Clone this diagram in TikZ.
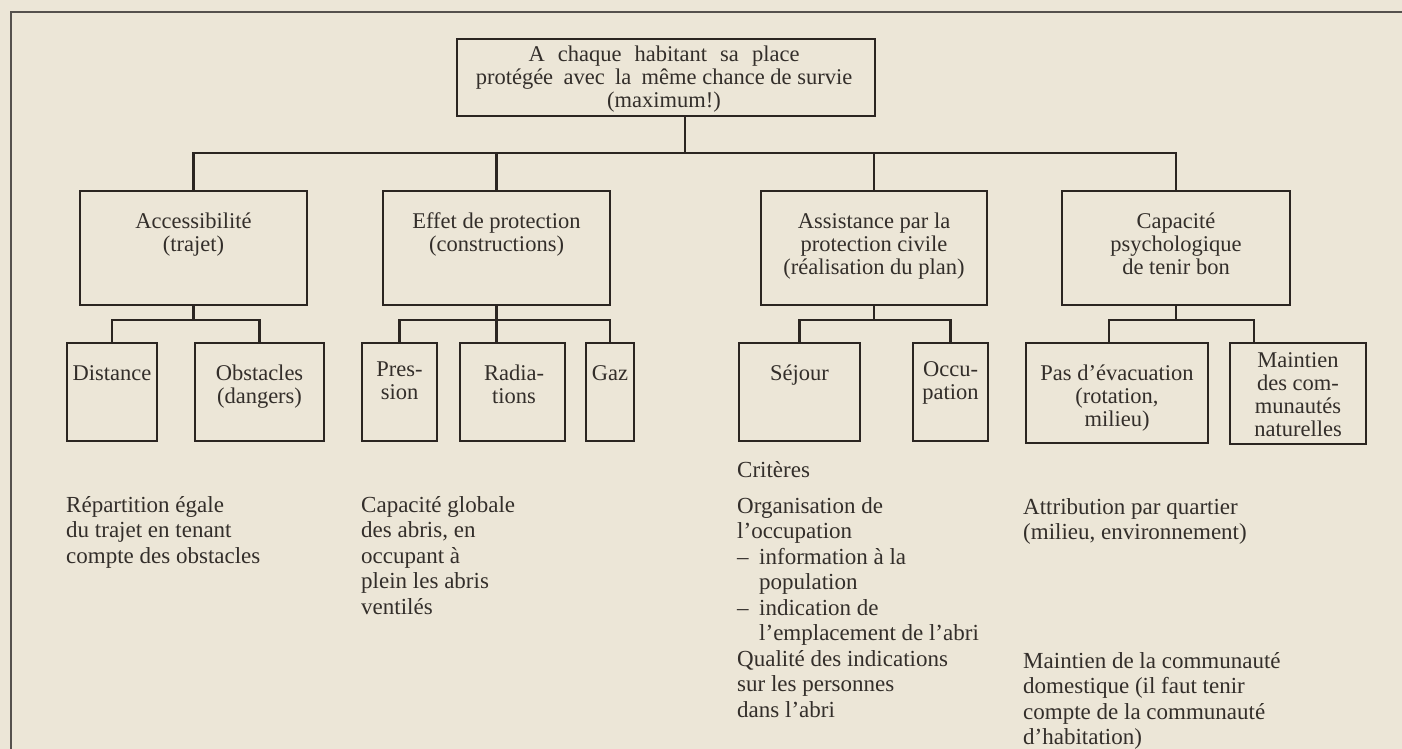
\documentclass[tikz,border=0pt]{standalone}
\usepackage{fontspec}
\setmainfont{Liberation Serif}
\definecolor{paper}{HTML}{ECE6D7}
\definecolor{ink}{HTML}{2B2521}
\definecolor{txt}{HTML}{332E2A}
\newcommand{\btxt}[1]{\parbox[t]{300pt}{\centering\fontsize{22.5}{23}\selectfont #1}}
\newcommand{\wtxt}[1]{\parbox[t]{440pt}{\centering\fontsize{22.5}{23}\selectfont #1}}
\newcommand{\ftxt}[1]{\parbox[t]{420pt}{\raggedright\fontsize{23}{25.5}\selectfont #1}}
\newcommand{\dashitem}{\makebox[22pt][l]{–}}
\begin{document}
\begin{tikzpicture}[x=1pt,y=-1pt,
  box/.style={draw=ink, line width=2.6pt, inner sep=0pt},
  lbl/.style={text=txt, inner sep=0pt, anchor=base},
  free/.style={text=txt, inner sep=0pt, anchor=base west},
  conn/.style={draw=ink, line width=2.4pt},
  frameline/.style={draw=ink!80, line width=1.5pt}]
\useasboundingbox (0,0) rectangle (1402,749);
\fill[paper] (0,0) rectangle (1402,749);
\draw[frameline] (11,749) -- (11,12) -- (1402,12);

% boxes
\node[box, minimum width=418pt, minimum height=77pt] (top) at (666,77.5) {};
\node[box, minimum width=227pt, minimum height=114pt] (acc) at (193.5,248) {};
\node[box, minimum width=227pt, minimum height=114pt] (eff) at (496.5,248) {};
\node[box, minimum width=226pt, minimum height=114pt] (ass) at (874,248) {};
\node[box, minimum width=228pt, minimum height=114pt] (cap) at (1176,248) {};
\node[box, minimum width=90pt, minimum height=98pt] (dist) at (112,392) {};
\node[box, minimum width=129pt, minimum height=98pt] (obs) at (259.5,392) {};
\node[box, minimum width=75pt, minimum height=98pt] (pres) at (399.5,392) {};
\node[box, minimum width=105pt, minimum height=98pt] (rad) at (512.5,392) {};
\node[box, minimum width=48pt, minimum height=98pt] (gaz) at (610,392) {};
\node[box, minimum width=121pt, minimum height=98pt] (sej) at (799.5,392) {};
\node[box, minimum width=75pt, minimum height=98pt] (occ) at (950.5,392) {};
\node[box, minimum width=182pt, minimum height=100pt] (pas) at (1117,393) {};
\node[box, minimum width=136pt, minimum height=101pt] (main) at (1298,393.5) {};

% box texts
\node[lbl] (topT) at (664,62) {\wtxt{\makebox[271pt][s]{A chaque habitant sa place}\\
  protégée\hspace{0.46em}avec\hspace{0.46em}la\hspace{0.46em}même chance de survie\\(maximum!)}};
\node[lbl] (accT) at (193.5,228) {\btxt{Accessibilité\\(trajet)}};
\node[lbl] (effT) at (496.5,228) {\btxt{Effet de protection\\(constructions)}};
\node[lbl] (assT) at (874,228) {\btxt{Assistance par la\\protection civile\\(réalisation du plan)}};
\node[lbl] (capT) at (1176,228) {\btxt{Capacité\\psychologique\\de tenir bon}};
\node[lbl] (distT) at (112,380) {\btxt{Distance}};
\node[lbl] (obsT) at (259.5,380) {\btxt{Obstacles\\(dangers)}};
\node[lbl] (presT) at (399.5,376) {\btxt{Pres-\\sion}};
\node[lbl] (radT) at (514,380) {\btxt{Radia-\\tions}};
\node[lbl] (gazT) at (610,380) {\btxt{Gaz}};
\node[lbl] (sejT) at (799.5,380) {\btxt{Séjour}};
\node[lbl] (occT) at (950.5,376) {\btxt{Occu-\\pation}};
\node[lbl] (pasT) at (1117,380) {\btxt{Pas d’évacuation\\(rotation,\\milieu)}};
\node[lbl] (mainT) at (1298,367) {\btxt{Maintien\\des com-\\munautés\\naturelles}};

% junction coordinates
\coordinate (j0) at (685,153);
\coordinate (j1) at (195,320);
\coordinate (j2) at (497,320);
\coordinate (j3) at (874,320);
\coordinate (j4) at (1176,320);
\coordinate (topOut) at ([xshift=19pt]top.south);
\coordinate (pasIn) at ([xshift=-8pt]pas.north);
\coordinate (mainIn) at ([xshift=-44pt]main.north);

% connectors level 1
\draw[conn] (topOut) -- (j0);
\draw[conn] (acc.north) |- (cap.north |- j0) -- (cap.north);
\draw[conn] (eff.north) -- (eff.north |- j0);
\draw[conn] (ass.north) -- (ass.north |- j0);

% connectors level 2
\draw[conn] (acc.south) -- (acc.south |- j1);
\draw[conn] (dist.north) |- (obs.north |- j1) -- (obs.north);
\draw[conn] (eff.south) -- (eff.south |- j2);
\draw[conn] (pres.north) |- (gaz.north |- j2) -- (gaz.north);
\draw[conn] (rad.north -| eff.south) -- (eff.south |- j2);
\draw[conn] (ass.south) -- (ass.south |- j3);
\draw[conn] (sej.north) |- (occ.north |- j3) -- (occ.north);
\draw[conn] (cap.south) -- (cap.south |- j4);
\draw[conn] (pasIn) |- (mainIn |- j4) -- (mainIn);

% free texts
\node[free] (t1) at (66,512) {\ftxt{Répartition égale\\du trajet en tenant\\compte des obstacles}};
\node[free] (t2) at (361,512) {\ftxt{Capacité globale\\des abris, en\\occupant à\\plein les abris\\ventilés}};
\node[free] (t3) at (737,477) {\ftxt{Critères}};
\node[free] (t4) at (737,513) {\ftxt{Organisation de\\l’occupation\\\dashitem information à la\\\hspace*{22pt}population\\\dashitem indication de\\\hspace*{22pt}l’emplacement de l’abri\\Qualité des indications\\sur les personnes\\dans l’abri}};
\node[free] (t5) at (1023,514) {\ftxt{Attribution par quartier\\(milieu, environnement)}};
\node[free] (t6) at (1023,668) {\ftxt{Maintien de la communauté\\domestique (il faut tenir\\compte de la communauté\\d’habitation)}};
\end{tikzpicture}
\end{document}
